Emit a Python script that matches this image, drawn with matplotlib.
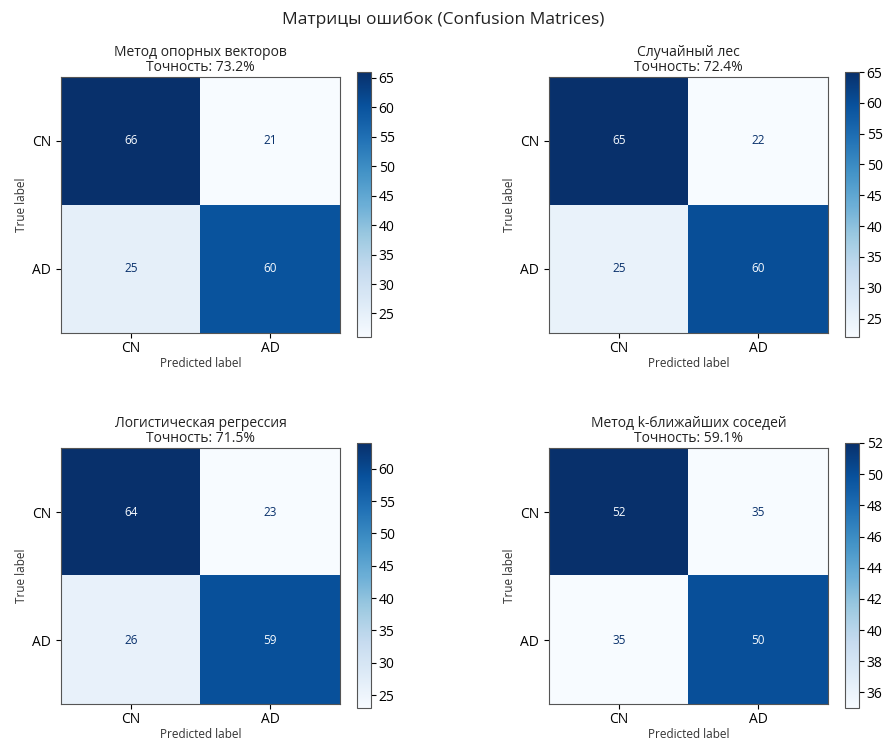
import numpy as np
import matplotlib
matplotlib.use("Agg")
import matplotlib.pyplot as plt

plt.rcParams['font.family'] = ['Open Sans', 'DejaVu Sans']

# Confusion matrices (rows = true label, cols = predicted label)
class_labels = ['CN', 'AD']
model_names = ['Метод опорных векторов', 'Случайный лес',
               'Логистическая регрессия', 'Метод k-ближайших соседей']
accuracies = [73.2, 72.4, 71.5, 59.1]
cm_svm = [[66, 21], [25, 60]]
cm_rf = [[65, 22], [25, 60]]
cm_lr = [[64, 23], [26, 59]]
cm_knn = [[52, 35], [35, 50]]
matrices = [cm_svm, cm_rf, cm_lr, cm_knn]

W, H = 886, 740
fig = plt.figure(figsize=(W / 100, H / 100), dpi=100)

# pixel boxes: (left, top, right, bottom) for matrix and colorbar
ax_boxes = [(61, 77, 340, 333), (549, 77, 828, 333),
            (61, 448, 340, 704), (549, 448, 828, 704)]
cb_boxes = [(357, 72, 371, 337), (845, 72, 859, 337),
            (357, 443, 371, 708), (845, 443, 859, 708)]


def to_rect(box):
    l, t, r, b = box
    return [l / W, 1 - b / H, (r - l) / W, (b - t) / H]


cmap = plt.get_cmap('Blues')
for name, acc, cm, axb, cbb in zip(model_names, accuracies, matrices, ax_boxes, cb_boxes):
    cm = np.array(cm)
    ax = fig.add_axes(to_rect(axb))
    cax = fig.add_axes(to_rect(cbb))
    im = ax.imshow(cm, cmap=cmap, aspect='auto', interpolation='nearest')
    thresh = (cm.max() + cm.min()) / 2.0
    for i in range(cm.shape[0]):
        for j in range(cm.shape[1]):
            color = cmap(0.0) if cm[i, j] >= thresh else cmap(1.0)
            ax.text(j, i, str(cm[i, j]), ha='center', va='center',
                    color=color, fontsize=8.5)
    ax.set_xticks(range(len(class_labels)))
    ax.set_yticks(range(len(class_labels)))
    ax.set_xticklabels(class_labels, fontsize=10)
    ax.set_yticklabels(class_labels, fontsize=10)
    ax.tick_params(axis='x', pad=2)
    ax.set_xlabel('Predicted label', fontsize=8.5, color='#333333', labelpad=1)
    ax.set_ylabel('True label', fontsize=8.5, color='#333333', labelpad=3)
    ax.set_title(f'{name}\nТочность: {acc}%', fontsize=10, color='#222222',
                 linespacing=1.0, pad=4)
    for sp in ax.spines.values():
        sp.set_color('#555555')
    cb = fig.colorbar(im, cax=cax)
    cb.ax.tick_params(labelsize=10, pad=2)
    cb.outline.set_edgecolor('#555555')

fig.suptitle('Матрицы ошибок (Confusion Matrices)', fontsize=12.5, y=1 - 20 / H,
             va='center', color='#222222')

fig.savefig('out.png', dpi=100)
